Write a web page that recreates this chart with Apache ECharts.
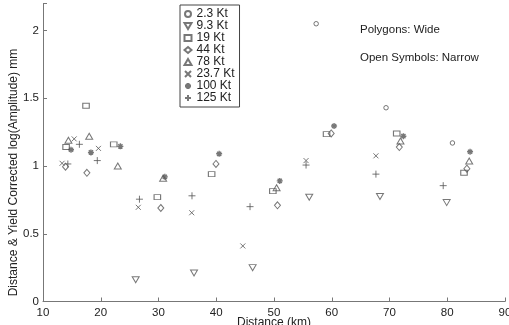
<!DOCTYPE html>
<html><head><meta charset="utf-8">
<script src="https://cdn.jsdelivr.net/npm/echarts@6/dist/echarts.min.js"></script>
<style>html,body{margin:0;padding:0;background:#fff}#c{width:509px;height:325px}</style>
</head><body><div id="c"></div>
<script>
// Data: [distance km, corrected log amplitude]
var kt2_3 = [[57.3,2.05],[69.4,1.43],[80.9,1.17]];
var kt9_3 = [[26.05,0.16],[36.15,0.21],[46.3,0.25],[56.1,0.77],[68.35,0.775],[79.9,0.73]];
var kt19 = [[17.45,1.445],[14.0,1.14],[22.25,1.16],[29.8,0.77],[39.2,0.94],[49.8,0.815],[59.1,1.235],[71.25,1.24],[82.9,0.95]];
var kt44 = [[13.9,0.995],[17.6,0.95],[30.4,0.69],[39.95,1.015],[50.6,0.71],[59.9,1.24],[71.7,1.14],[83.4,0.98]];
var kt78 = [[14.4,1.19],[18.0,1.22],[22.95,1.0],[30.8,0.91],[50.45,0.84],[71.9,1.185],[83.8,1.037]];
var kt23_7 = [[13.3,1.02],[15.4,1.20],[19.6,1.13],[26.5,0.695],[35.75,0.655],[44.6,0.41],[55.55,1.04],[67.65,1.075]];
var kt100 = [[14.85,1.12],[18.3,1.10],[23.4,1.145],[31.1,0.92],[40.5,1.09],[51.0,0.89],[60.4,1.295],[72.4,1.22],[83.95,1.105]];
var kt125 = [[14.3,1.015],[16.3,1.16],[19.4,1.04],[26.7,0.755],[35.8,0.78],[45.85,0.70],[55.55,1.007],[67.65,0.94],[79.3,0.855]];
var seriesNames = ['2.3 Kt','9.3 Kt','19 Kt','44 Kt','78 Kt','23.7 Kt','100 Kt','125 Kt'];
var xTicks = [10,20,30,40,50,60,70,80,90];
var yTicks = [0,0.5,1,1.5,2];

var C = '#555';
function open(name, data, symbol, size, bw){
  return {name:name, type:'scatter', data:data, symbol:symbol, symbolSize:size,
    itemStyle:{color:'none', borderColor:C, borderWidth:bw||1}, emphasis:{disabled:true}};
}
var series = [
  open(seriesNames[0], kt2_3, 'circle', 4.5),
  open(seriesNames[1], kt9_3, 'path://M0,0L10,0L5,8.5Z', [7,6]),
  open(seriesNames[2], kt19, 'rect', [6.5,5]),
  open(seriesNames[3], kt44, 'diamond', [6,7]),
  open(seriesNames[4], kt78, 'triangle', [7,6]),
  open(seriesNames[5], kt23_7, 'path://M0,0L10,10M10,0L0,10', 5, 1),
  open(seriesNames[6], kt100, 'path://M5,0L5,10M0,5L10,5M1.5,1.5L8.5,8.5M8.5,1.5L1.5,8.5', 6, 1.4),
  open(seriesNames[7], kt125, 'path://M5,0L5,10M0,5L10,5', 7, 1)
];
var chart = echarts.init(document.getElementById('c'), null, {renderer:'canvas'});
chart.setOption({
  animation:false,
  backgroundColor:'#fff',
  grid:{left:43, right:4, top:3.4, bottom:23.5, outerBoundsMode:'none', containLabel:false},
  xAxis:{type:'value', min:10, max:90, interval:10,
    name:'Distance (km)', nameLocation:'middle', nameGap:15, nameMoveOverlap:false,
    nameTextStyle:{fontFamily:'Liberation Sans', fontSize:12, color:'#222', verticalAlign:'top'},
    axisLine:{lineStyle:{color:'#777', width:1}},
    axisTick:{inside:true, length:4, lineStyle:{color:'#777'}},
    axisLabel:{fontFamily:'Liberation Sans', fontSize:11.5, color:'#222', margin:5,
      formatter:function(v){return xTicks.indexOf(v)>=0?String(v):'';}},
    splitLine:{show:false}},
  yAxis:{type:'value', min:0, max:2.2, interval:0.5,
    axisLine:{show:true, lineStyle:{color:'#777', width:1}},
    axisTick:{show:true, inside:true, length:4, lineStyle:{color:'#777'}},
    axisLabel:{fontFamily:'Liberation Sans', fontSize:11.5, color:'#222', margin:4,
      formatter:function(v){return yTicks.indexOf(v)>=0?String(v):'';}},
    splitLine:{show:false}},
  legend:{data:seriesNames, orient:'vertical', left:180, top:5,
    itemWidth:7, itemHeight:6, itemGap:0, padding:[3,5,3,2],
    borderColor:'#444', borderWidth:1, backgroundColor:'#fff',
    textStyle:{fontFamily:'Liberation Sans', fontSize:12, lineHeight:12, color:'#222'}},
  graphic:[
    {type:'text', left:360, top:24, style:{text:'Polygons: Wide', font:'11.5px "Liberation Sans"', fill:'#222'}},
    {type:'text', left:360, top:52, style:{text:'Open Symbols: Narrow', font:'11.5px "Liberation Sans"', fill:'#222'}},
    {type:'text', x:14, y:172.5, rotation:Math.PI/2, style:{text:'Distance & Yield Corrected log(Amplitude) mm', font:'12px "Liberation Sans"', fill:'#222', align:'center', verticalAlign:'middle'}}
  ],
  series:series
});
</script></body></html>
